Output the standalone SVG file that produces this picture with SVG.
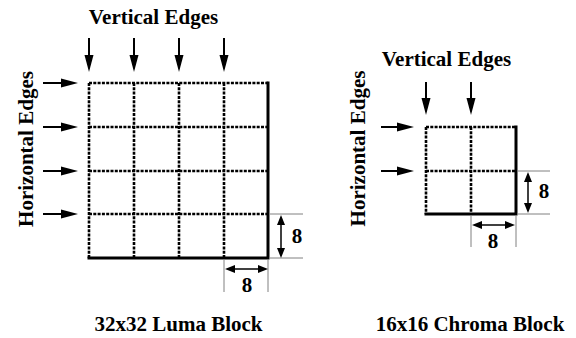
<svg xmlns="http://www.w3.org/2000/svg" width="576" height="338" viewBox="0 0 576 338">
<style>
.t{font-family:'Liberation Serif','Times New Roman',Times,serif;font-weight:700;font-size:21px;fill:#000;text-anchor:middle}
.dot{stroke:#000;stroke-width:2.6;stroke-dasharray:3 1.3;fill:none}
.solid{stroke:#000;stroke-width:3;fill:none;stroke-linecap:square}
.arr{stroke:#000;stroke-width:2;fill:none;marker-end:url(#ah)}
.dim{stroke:#000;stroke-width:1.5;fill:none;marker-start:url(#dh);marker-end:url(#dh)}
.ext{stroke:#808080;stroke-width:1;fill:none}
</style>
<defs>
<marker id="ah" markerUnits="userSpaceOnUse" markerWidth="18" markerHeight="10" viewBox="0 -5 18 10" refX="0" refY="0" orient="auto">
<path d="M0,-4.5 L17,0 L0,4.5 Z" fill="#000"/>
</marker>
<marker id="dh" markerUnits="userSpaceOnUse" markerWidth="11" markerHeight="9" viewBox="0 -4.5 11 9" refX="0" refY="0" orient="auto-start-reverse">
<path d="M0,-4 L10,0 L0,4 Z" fill="#000"/>
</marker>
</defs>
<rect width="576" height="338" fill="#fff"/>

<g id="luma-block">
<path class="dot" d="M89,83 H268 M89,127 H268 M89,171 H268 M89,214 H268 M89,83 V258 M134,83 V258 M179,83 V258 M224,83 V258"/>
<path class="solid" d="M268,83 V258 H89"/>
<text class="t" x="178.5" y="331">32x32 Luma Block</text>
</g>

<g id="chroma-block">
<path class="dot" d="M426,127 H516 M426,171 H516 M426,127 V214 M471,127 V214"/>
<path class="solid" d="M516,127 V214 H426"/>
<text class="t" x="470" y="331">16x16 Chroma Block</text>
</g>

<g id="luma-labels">
<text class="t" x="153.5" y="23.5">Vertical Edges</text>
<text class="t" transform="translate(33,149) rotate(-90)">Horizontal Edges</text>
<text class="t" x="297" y="243">8</text>
<text class="t" x="247" y="292">8</text>
</g>

<g id="chroma-labels">
<text class="t" x="446.5" y="66">Vertical Edges</text>
<text class="t" transform="translate(365,148.5) rotate(-90)">Horizontal Edges</text>
<text class="t" x="544" y="198">8</text>
<text class="t" x="493" y="248">8</text>
</g>

<g id="connectors">
<path class="arr" d="M89,38 V55"/>
<path class="arr" d="M134,38 V55"/>
<path class="arr" d="M179,38 V55"/>
<path class="arr" d="M224,38 V55"/>
<path class="arr" d="M43,83 H61"/>
<path class="arr" d="M43,127 H61"/>
<path class="arr" d="M43,171 H61"/>
<path class="arr" d="M43,214 H61"/>
<path class="arr" d="M426,82 V98"/>
<path class="arr" d="M471,82 V98"/>
<path class="arr" d="M381,127 H397"/>
<path class="arr" d="M381,171 H397"/>
<path class="ext" d="M270,214 H303 M270,258 H303 M224,260 V292 M268,260 V292"/>
<path class="dim" d="M281,225 V248"/>
<path class="dim" d="M235,269 H258"/>
<path class="ext" d="M517,171 H550 M517,214 H550 M471,215 V247 M516,215 V247"/>
<path class="dim" d="M528,182 V203"/>
<path class="dim" d="M482,225 H505"/>
</g>
</svg>
